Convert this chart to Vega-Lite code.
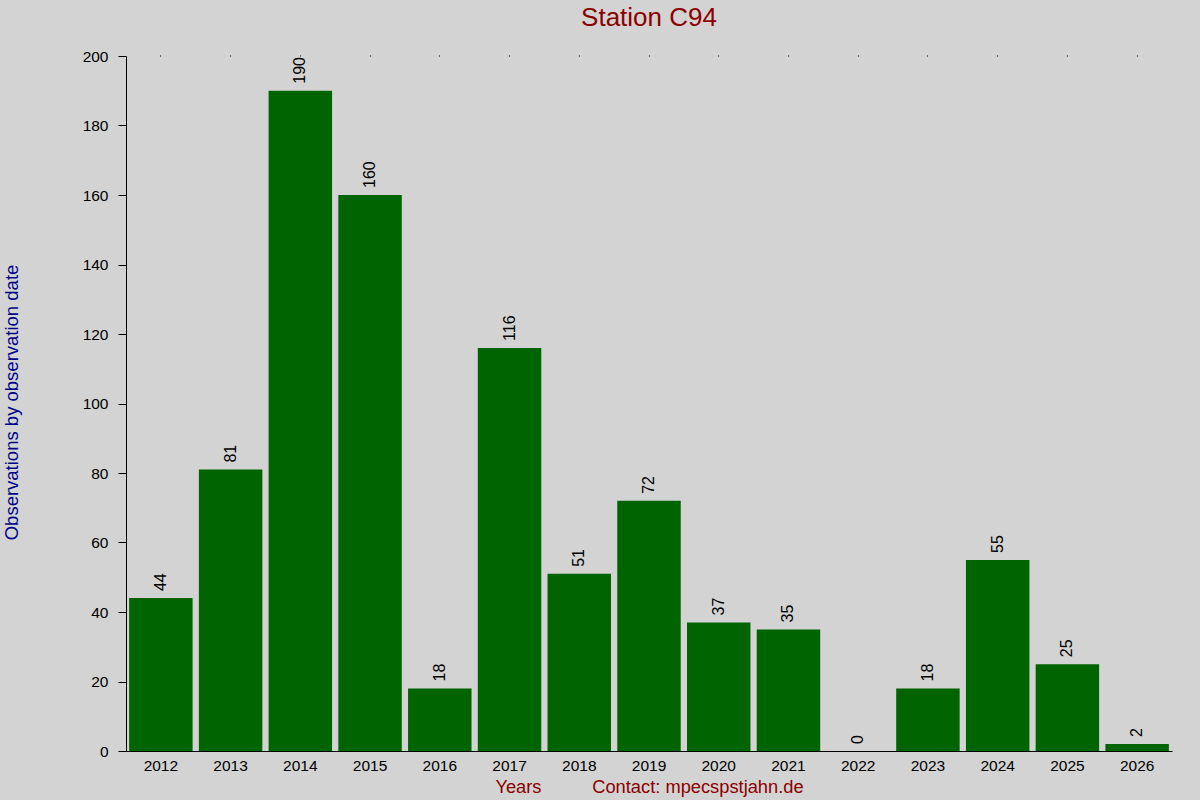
{
  "$schema": "https://vega.github.io/schema/vega-lite/v6.json",
  "description": "Observations by year for station C94",
  "autosize": {"type": "none"},
  "width": 1046,
  "height": 695,
  "padding": {"left": 126, "top": 56, "right": 28, "bottom": 49},
  "background": "#D3D3D3",
  "title": {
    "text": "Station C94",
    "color": "#8B0000",
    "font": "Liberation Sans",
    "fontSize": 26,
    "fontWeight": "normal",
    "anchor": "middle",
    "offset": 18
  },
  "data": {
    "values": [
      {"year": "2012", "count": 44},
      {"year": "2013", "count": 81},
      {"year": "2014", "count": 190},
      {"year": "2015", "count": 160},
      {"year": "2016", "count": 18},
      {"year": "2017", "count": 116},
      {"year": "2018", "count": 51},
      {"year": "2019", "count": 72},
      {"year": "2020", "count": 37},
      {"year": "2021", "count": 35},
      {"year": "2022", "count": 0},
      {"year": "2023", "count": 18},
      {"year": "2024", "count": 55},
      {"year": "2025", "count": 25},
      {"year": "2026", "count": 2}
    ]
  },
  "layer": [
    {
      "mark": {"type": "bar", "color": "#006400"},
      "encoding": {
        "x": {
          "field": "year",
          "type": "ordinal",
          "scale": {"paddingInner": 0.09, "paddingOuter": 0.045},
          "axis": {
            "orient": "bottom",
            "title": "Years\u00a0\u00a0\u00a0\u00a0\u00a0\u00a0\u00a0\u00a0\u00a0\u00a0Contact: mpecspstjahn.de",
            "titleColor": "#8B0000",
            "titleFontSize": 18.3,
            "titlePadding": 5,
            "labelAngle": 0,
            "labelFontSize": 15.5,
            "labelPadding": 7,
            "ticks": false,
            "domainColor": "black"
          }
        },
        "y": {
          "field": "count",
          "type": "quantitative",
          "scale": {"domain": [0, 200]},
          "axis": {
            "values": [0, 20, 40, 60, 80, 100, 120, 140, 160, 180, 200],
            "grid": false,
            "title": "Observations by observation date",
            "titleColor": "#00008B",
            "titleFontSize": 18.5,
            "titleAngle": -90,
            "titleAlign": "center",
            "titleBaseline": "middle",
            "titleX": -115,
            "titleY": 346,
            "labelFontSize": 15.5,
            "labelPadding": 10,
            "tickSize": 8,
            "tickColor": "black",
            "domainColor": "black"
          }
        }
      }
    },
    {
      "mark": {"type": "text", "angle": -90, "align": "left", "baseline": "middle", "dx": 7, "fontSize": 16, "color": "black"},
      "encoding": {
        "x": {
          "field": "year",
          "type": "ordinal",
          "axis": {
            "orient": "top",
            "title": null,
            "labels": false,
            "domain": false,
            "ticks": true,
            "tickSize": 1,
            "tickColor": "black"
          }
        },
        "y": {"field": "count", "type": "quantitative"},
        "text": {"field": "count", "type": "quantitative"}
      }
    }
  ],
  "resolve": {"axis": {"x": "independent"}},
  "config": {
    "font": "Liberation Sans",
    "view": {"stroke": null},
    "axis": {"labelColor": "black", "labelFont": "Liberation Sans", "titleFont": "Liberation Sans", "titleFontWeight": "normal"}
  }
}
